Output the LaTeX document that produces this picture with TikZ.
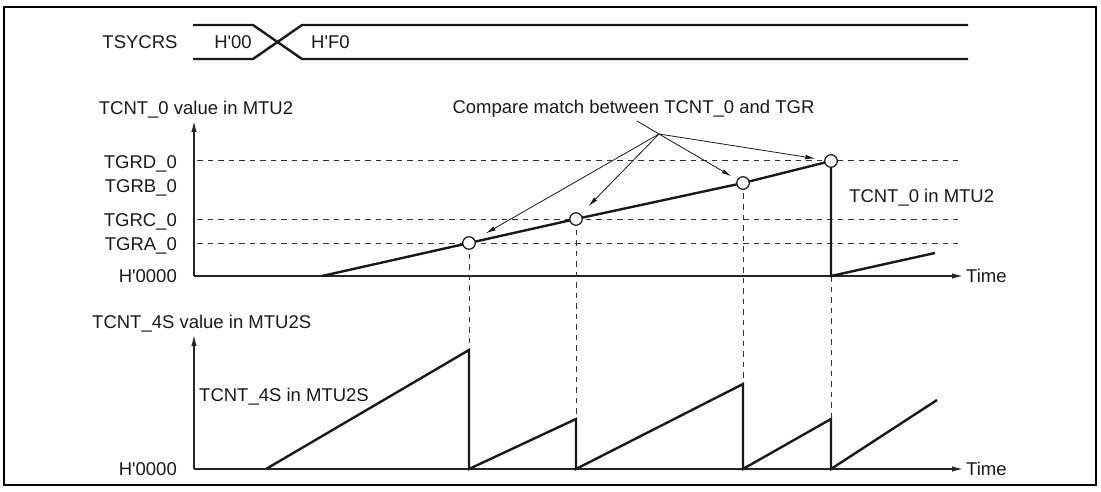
\documentclass[tikz,border=0pt]{standalone}
\usepackage{fontspec}
\setmainfont{Liberation Sans}
\usetikzlibrary{arrows.meta}
\begin{document}
\begin{tikzpicture}[x=1pt,y=-1pt,
  lbl/.style={inner sep=0pt, font=\fontsize{18.5}{22}\selectfont, text=black!90},
  heavy/.style={line width=2.4pt, draw=black!90},
  axis/.style={line width=1.3pt, draw=black!85, -{Latex[length=11pt,width=5.5pt]}},
  guide/.style={line width=1pt, dash pattern=on 5.5pt off 5pt, draw=black!80},
  match/.style={draw=black!90, circle, fill=white, minimum size=12.5pt, inner sep=0pt, line width=1.2pt},
  ptr/.style={line width=0.8pt, draw=black!90, -{Latex[length=10pt,width=4.5pt]}},
]
\useasboundingbox (0,0) rectangle (1101,492);
\draw[line width=2.5pt] (4,7) rectangle (1096,485);

% ---- TSYCRS bus ----
\node[lbl, anchor=base] (tsy) at (140,48.7) {TSYCRS};
\coordinate (b1) at (193,25); \coordinate (b2) at (253,25);
\coordinate (b3) at (302,59); \coordinate (b4) at (968,59);
\coordinate (c1) at (193,59); \coordinate (c2) at (253,59);
\coordinate (c3) at (302,25); \coordinate (c4) at (968,25);
\draw[heavy] (b1) -- (b2) -- (b3) -- (b4);
\draw[heavy] (c1) -- (c2) -- (c3) -- (c4);
\node[lbl, anchor=base] (h00) at (233,48.7) {H\textquotesingle 00};
\node[lbl, anchor=base west] (hf0) at (311,48.7) {H\textquotesingle F0};

% ---- top chart ----
\node[lbl, anchor=base] (ylab1) at (196,114.7) {TCNT\_0 value in MTU2};
\coordinate (o1) at (194,276);
\coordinate (y1) at (194,121);
\coordinate (x1) at (963,276);
\node[lbl, anchor=base east] (lD) at (177,168.2) {TGRD\_0};
\node[lbl, anchor=base east] (lB) at (177,193) {TGRB\_0};
\node[lbl, anchor=base east] (lC) at (177,226) {TGRC\_0};
\node[lbl, anchor=base east] (lA) at (177,250) {TGRA\_0};
\node[lbl, anchor=base east] (lZ1) at (177,282.5) {H\textquotesingle 0000};

\coordinate (dD1) at (197,161); \coordinate (dD2) at (958,161);
\coordinate (dC1) at (197,219); \coordinate (dC2) at (958,219);
\coordinate (dA1) at (197,243); \coordinate (dA2) at (958,243);
\draw[guide] (dD1) -- (dD2);
\draw[guide] (dC1) -- (dC2);
\draw[guide] (dA1) -- (dA2);

\coordinate (pA) at (469,243);
\coordinate (pC) at (576,219);
\coordinate (pB) at (743,183);
\coordinate (pD) at (831,161);
\coordinate (s0) at (322,276);
\coordinate (rD) at (831,276);
\coordinate (e1) at (935,253);

% vertical guides
\coordinate (qA) at (469,350);
\coordinate (qC) at (576,419);
\coordinate (qB) at (743,384);
\coordinate (qD) at (831,419);
\draw[guide] (pA) -- (qA);
\draw[guide] (pC) -- (qC);
\draw[guide] (pB) -- (qB);
\draw[guide] (rD) -- (qD);

\draw[axis] (o1) -- (y1);
\draw[axis] (o1) -- (x1);
\node[lbl, anchor=base west] (time1) at (966,282.7) {Time};

\draw[heavy] (s0) -- (pA) -- (pC) -- (pB) -- (pD) -- (rD) -- (e1);
\node[match] (cA) at (pA) {};
\node[match] (cC) at (pC) {};
\node[match] (cB) at (pB) {};
\node[match] (cD) at (pD) {};
\node[lbl, anchor=base west] (tc0) at (849,202) {TCNT\_0 in MTU2};

% compare match annotation
\node[lbl, anchor=base] (cm) at (633.5,114) {Compare match between TCNT\_0 and TGR};
\coordinate (lead) at (637,121);
\coordinate (fan) at (659,134);
\draw[line width=0.8pt, draw=black!90] (lead) -- (fan);
\draw[ptr, shorten >=12.5pt] (fan) -- (cA);
\draw[ptr, shorten >=11pt] (fan) -- (cC);
\draw[ptr, shorten >=6.5pt] (fan) -- (cB);
\draw[ptr, shorten >=9pt] (fan) -- (cD);

% ---- bottom chart ----
\node[lbl, anchor=base west] (ylab2) at (92,328) {TCNT\_4S value in MTU2S};
\coordinate (o2) at (194,469);
\coordinate (y2) at (194,335);
\coordinate (x2) at (963,469);
\node[lbl, anchor=base east] (lZ2) at (177,475.5) {H\textquotesingle 0000};
\draw[axis] (o2) -- (y2);
\draw[axis] (o2) -- (x2);
\node[lbl, anchor=base west] (time2) at (966,475.7) {Time};
\node[lbl, anchor=base west] (tc4) at (199,401) {TCNT\_4S in MTU2S};

\coordinate (t0) at (266,469);
\coordinate (tA) at (469,469);
\coordinate (tC) at (576,469);
\coordinate (tB) at (743,469);
\coordinate (tD) at (831,469);
\coordinate (te) at (937,400);
\draw[heavy] (t0) -- (qA) -- (tA) -- (qC) -- (tC) -- (qB) -- (tB) -- (qD) -- (tD) -- (te);
\end{tikzpicture}
\end{document}
